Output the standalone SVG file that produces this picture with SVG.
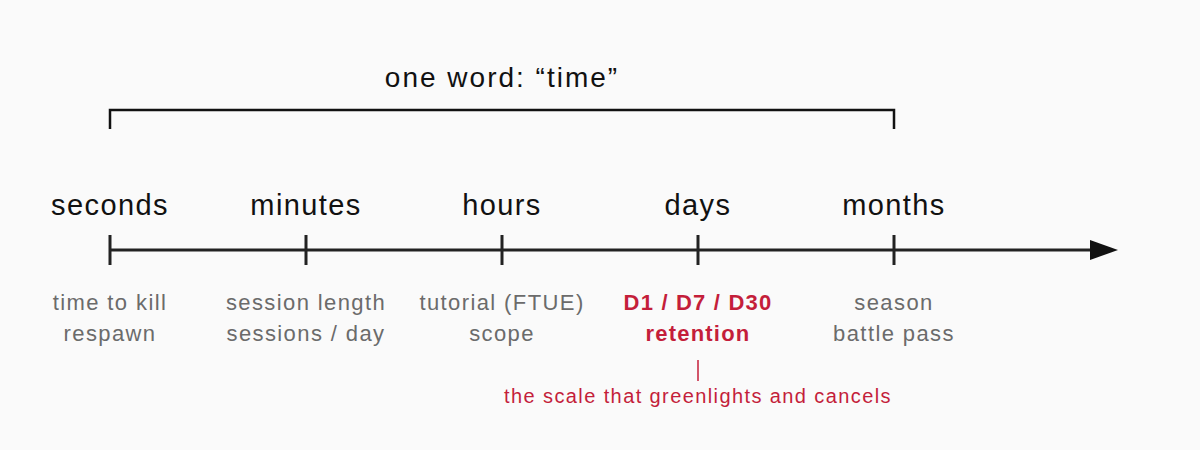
<svg xmlns="http://www.w3.org/2000/svg" width="1200" height="450" viewBox="0 0 1200 450">
<style>
text{font-family:"Liberation Sans",Arial,sans-serif;text-anchor:middle}
.scale{font-size:29px;fill:#111;letter-spacing:1.4px}
.title{font-size:28px;fill:#111;letter-spacing:2px}
.sub{font-size:22px;fill:#6b6b6b;letter-spacing:1.4px}
.hot{font-size:22px;fill:#c41e3a;font-weight:bold;letter-spacing:1.2px}
.cap{font-size:20px;fill:#c41e3a;letter-spacing:1.4px}
.tick{stroke:#222;stroke-width:3}
</style>
<rect width="1200" height="450" fill="#fafafa"/>
<g id="bracket">
<path d="M110 129V110H894V129" fill="none" stroke="#111" stroke-width="2.5"/>
<text class="title" x="502" y="87">one word: “time”</text>
</g>
<g id="connectors">
<line x1="110" y1="250" x2="1092" y2="250" stroke="#222" stroke-width="3"/>
<polygon points="1090,240 1118,250 1090,260" fill="#111"/>
<line x1="698" y1="360" x2="698" y2="381" stroke="#c41e3a" stroke-width="1.5"/>
</g>
<g id="seconds">
<line class="tick" x1="110" y1="235" x2="110" y2="265"/>
<text class="scale" x="110" y="215">seconds</text>
<text class="sub" x="110" y="310">time to kill</text>
<text class="sub" x="110" y="341">respawn</text>
</g>
<g id="minutes">
<line class="tick" x1="306" y1="235" x2="306" y2="265"/>
<text class="scale" x="306" y="215">minutes</text>
<text class="sub" x="306" y="310">session length</text>
<text class="sub" x="306" y="341">sessions / day</text>
</g>
<g id="hours">
<line class="tick" x1="502" y1="235" x2="502" y2="265"/>
<text class="scale" x="502" y="215">hours</text>
<text class="sub" x="502" y="310">tutorial (FTUE)</text>
<text class="sub" x="502" y="341">scope</text>
</g>
<g id="days">
<line class="tick" x1="698" y1="235" x2="698" y2="265"/>
<text class="scale" x="698" y="215">days</text>
<text class="hot" x="698" y="310">D1 / D7 / D30</text>
<text class="hot" x="698" y="341">retention</text>
</g>
<g id="months">
<line class="tick" x1="894" y1="235" x2="894" y2="265"/>
<text class="scale" x="894" y="215">months</text>
<text class="sub" x="894" y="310">season</text>
<text class="sub" x="894" y="341">battle pass</text>
</g>
<g id="caption">
<text class="cap" x="698" y="403">the scale that greenlights and cancels</text>
</g>
</svg>
